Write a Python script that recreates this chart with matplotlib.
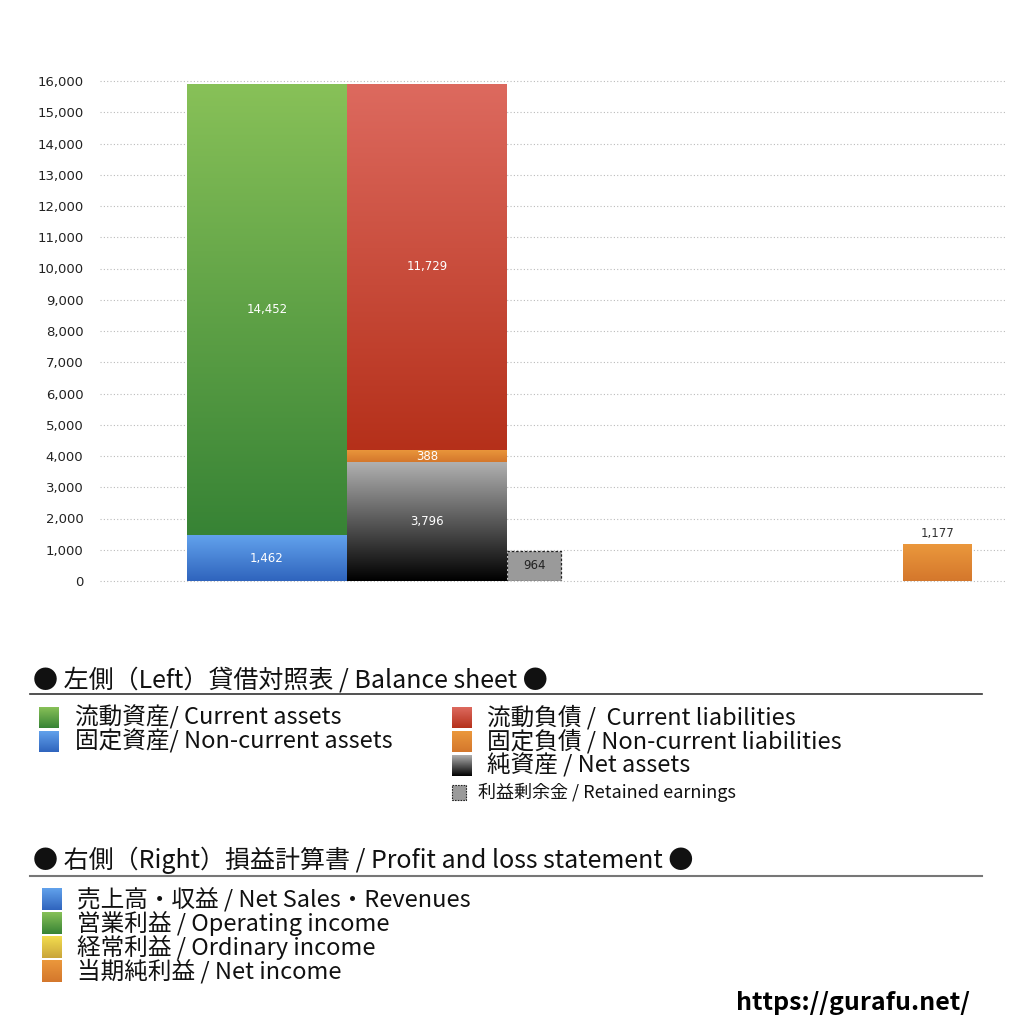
import matplotlib
matplotlib.use("Agg")
import matplotlib.pyplot as plt
import matplotlib.colors as mcolors
import numpy as np

plt.rcParams['font.family'] = ['Noto Sans CJK JP', 'DejaVu Sans']

# Balance sheet (left) and P/L (right) values
current_assets = 14452
noncurrent_assets = 1462
current_liabilities = 11729
noncurrent_liabilities = 388
net_assets = 3796
retained_earnings = 964
net_income = 1177

yticks = list(range(0, 16001, 1000))

# gradient colours (top, bottom)
C_GREEN = ("#88c158", "#378335")
C_BLUE = ("#62a2ec", "#2f64bd")
C_RED = ("#dd6a5f", "#b5301a")
C_ORANGE = ("#eb983c", "#d4772c")
C_BLACK = ("#b0b0b0", "#000000")
C_YELLOW = ("#f3dd4f", "#c9a53a")


def vgrad(top, bottom, n=256):
    a = np.array(mcolors.to_rgb(top))
    b = np.array(mcolors.to_rgb(bottom))
    t = np.linspace(0, 1, n)[:, None]
    return (a * (1 - t) + b * t)[:, None, :]


def grad_bar(ax, x, bottom, width, height, colors):
    bar = ax.bar(x, height, width=width, bottom=bottom, align='edge',
                 color='none', edgecolor='none', zorder=3)[0]
    im = ax.imshow(vgrad(*colors), extent=[x, x + width, bottom, bottom + height],
                   origin='upper', aspect='auto', zorder=2,
                   interpolation='bilinear')
    im.set_clip_path(bar)
    return bar


fig = plt.figure(figsize=(10.24, 10.24), dpi=100)
ax = fig.add_axes([100 / 1024, 443 / 1024, 905 / 1024, 500 / 1024])

# bar positions in pixel-like x units
x_assets, x_liab, x_ret, x_ni = 187, 347, 507, 903
w_main, w_ret, w_ni = 160, 54, 69

grad_bar(ax, x_assets, 0, w_main, noncurrent_assets, C_BLUE)
grad_bar(ax, x_assets, noncurrent_assets, w_main, current_assets, C_GREEN)
grad_bar(ax, x_liab, 0, w_main, net_assets, C_BLACK)
grad_bar(ax, x_liab, net_assets, w_main, noncurrent_liabilities, C_ORANGE)
grad_bar(ax, x_liab, net_assets + noncurrent_liabilities, w_main,
         current_liabilities, C_RED)
ax.bar(x_ret, retained_earnings, width=w_ret, align='edge', color='#9a9a9a',
       edgecolor='#222222', linestyle=(0, (2, 1.5)), linewidth=0.9, zorder=3)
grad_bar(ax, x_ni, 0, w_ni, net_income, C_ORANGE)


def lab(x, y, v, color='white'):
    ax.text(x, y, f"{v:,}", ha='center', va='center', fontsize=8.5,
            color=color, zorder=5, family='DejaVu Sans')


lab(x_assets + w_main / 2, noncurrent_assets / 2, noncurrent_assets)
lab(x_assets + w_main / 2, noncurrent_assets + current_assets / 2, current_assets)
lab(x_liab + w_main / 2, net_assets / 2, net_assets)
lab(x_liab + w_main / 2, net_assets + noncurrent_liabilities / 2, noncurrent_liabilities)
lab(x_liab + w_main / 2, net_assets + noncurrent_liabilities + current_liabilities / 2,
    current_liabilities)
lab(x_ret + w_ret / 2, retained_earnings / 2, retained_earnings, color='#222222')
ax.text(x_ni + w_ni / 2, net_income + 150, f"{net_income:,}", ha='center',
        va='bottom', fontsize=8.5, color='#333333', family='DejaVu Sans')

ax.set_xlim(100, 1005)
ax.set_ylim(0, 16000)
ax.set_yticks(yticks)
ax.set_yticklabels([f"{v:,}" for v in yticks], fontsize=9.5, color='#222222',
                   family='DejaVu Sans')
ax.set_xticks([])
ax.tick_params(axis='y', length=0, pad=12)
for s in ax.spines.values():
    s.set_visible(False)
ax.yaxis.grid(True, linestyle=(0, (1, 2)), color='#bbbbbb', linewidth=0.8)
ax.set_axisbelow(True)
for gl in ax.get_ygridlines():
    gl.set_clip_on(False)

# overlay in pixel coordinates for the legend area
ov = fig.add_axes([0, 0, 1, 1], zorder=-1)
ov.set_xlim(0, 1024)
ov.set_ylim(1024, 0)
ov.axis('off')


def sq(x, y, w, h, colors):
    ov.imshow(vgrad(*colors), extent=[x, x + w, y + h, y], aspect='auto',
              interpolation='bilinear')


fs = 18
fs_row = 17
ov.text(33, 680, "● 左側（Left）貸借対照表 / Balance sheet ●", fontsize=fs,
        va='center', color='#111111')
ov.plot([30, 982], [694, 694], color='#333333', linewidth=1.2)

left_items = [("流動資産/ Current assets", C_GREEN),
              ("固定資産/ Non-current assets", C_BLUE)]
right_items = [("流動負債 /  Current liabilities", C_RED),
               ("固定負債 / Non-current liabilities", C_ORANGE),
               ("純資産 / Net assets", C_BLACK)]
rows = [717, 741, 765]
for (t, c), y in zip(left_items, rows):
    sq(39, y - 10, 20, 21, c)
    ov.text(75, y, t, fontsize=fs_row, va='center', color='#111111')
for (t, c), y in zip(right_items, rows):
    sq(452, y - 10, 20, 21, c)
    ov.text(487, y, t, fontsize=fs_row, va='center', color='#111111')
ov.add_patch(plt.Rectangle((452, 785), 14, 15, facecolor='#9a9a9a',
                           edgecolor='#222222', linestyle=(0, (1.5, 1)),
                           linewidth=0.8))
ov.text(478, 792, "利益剰余金 / Retained earnings", fontsize=13, va='center',
        color='#111111')

ov.text(33, 860, "● 右側（Right）損益計算書 / Profit and loss statement ●",
        fontsize=fs, va='center', color='#111111')
ov.plot([30, 982], [876, 876], color='#777777', linewidth=1.5)

pl_items = [("売上高・収益 / Net Sales・Revenues", C_BLUE),
            ("営業利益 / Operating income", C_GREEN),
            ("経常利益 / Ordinary income", C_YELLOW),
            ("当期純利益 / Net income", C_ORANGE)]
for i, (t, c) in enumerate(pl_items):
    y = 899 + 24 * i
    sq(42, y - 11, 20, 22, c)
    ov.text(77, y, t, fontsize=fs_row, va='center', color='#111111')

ov.text(970, 1003, "https://gurafu.net/", fontsize=18, fontweight='bold',
        ha='right', va='center', color='#000000')

fig.savefig("out.png", dpi=100)
